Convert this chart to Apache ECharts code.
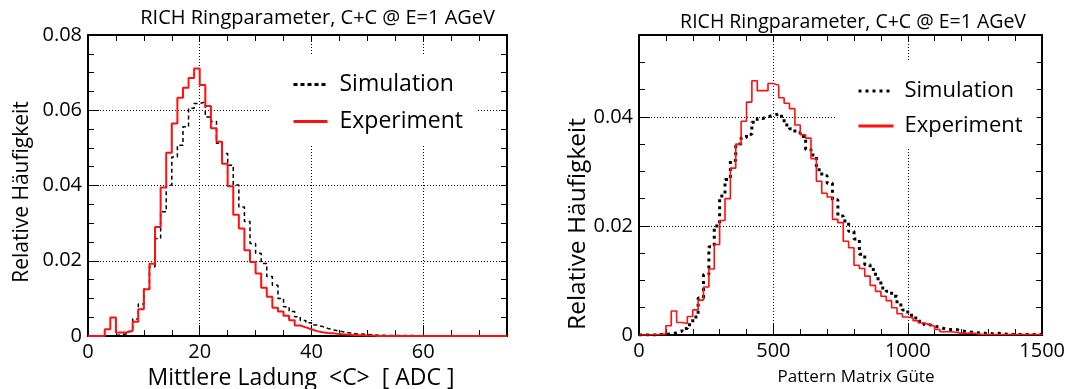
<!DOCTYPE html>
<html><head><meta charset="utf-8">
<script src="https://cdn.jsdelivr.net/npm/echarts@6/dist/echarts.min.js"></script>
<style>html,body{margin:0;padding:0;background:#fff}#c{width:1068px;height:389px}</style>
</head><body><div id="c"></div>
<script>
const FONT = '"Open Sans", "DejaVu Sans", sans-serif';

// bin widths of the two histograms
const leftBinWidth = 1;     // ADC
const rightBinWidth = 20;   // Pattern Matrix Güte

// Left: Mittlere Ladung <C> [ADC], bins 0..74
const leftSimulation = [
  0, 0, 0, 0, 0.0001, 0.0003, 0.0006, 0.0012, 0.0045, 0.0085,
  0.0125, 0.0184, 0.0259, 0.0330, 0.0401, 0.0476, 0.0507, 0.0556, 0.0605, 0.0618,
  0.0622, 0.0582, 0.0570, 0.0512, 0.0485, 0.0454, 0.0401, 0.0343, 0.0304, 0.0246,
  0.0220, 0.0193, 0.0158, 0.0135, 0.0100, 0.0078, 0.0065, 0.0051, 0.0041, 0.0035,
  0.0029, 0.0025, 0.0020, 0.0016, 0.0013, 0.0010, 0.0008, 0.0006, 0.0005, 0.0004,
  0.0003, 0.0002, 0.0002, 0.0001, 0.0001, 0.0001, 0.0001, 0.0001, 0.0001, 0,
  0, 0, 0, 0, 0, 0, 0, 0, 0, 0,
  0, 0, 0, 0, 0
];
const leftExperiment = [
  0, 0, 0, 0.0018, 0.0049, 0.0009, 0.0010, 0.0014, 0.0038, 0.0071,
  0.0124, 0.0192, 0.0290, 0.0395, 0.0487, 0.0565, 0.0633, 0.0660, 0.0686, 0.0711,
  0.0667, 0.0611, 0.0552, 0.0516, 0.0458, 0.0398, 0.0322, 0.0286, 0.0228, 0.0197,
  0.0166, 0.0128, 0.0104, 0.0075, 0.0065, 0.0054, 0.0042, 0.0028, 0.0023, 0.0018,
  0.0013, 0.0010, 0.0008, 0.0007, 0.0005, 0.0004, 0.0003, 0.0002, 0.0002, 0.0001,
  0.0001, 0, 0, 0, 0, 0, 0, 0, 0, 0,
  0, 0, 0, 0, 0, 0, 0, 0, 0, 0,
  0, 0, 0, 0, 0
];

// Right: Pattern Matrix Güte, bins of 20 from 0 to 1500
const rightSimulation = [
  0, 0, 0, 0.0001, 0.0001, 0.0002, 0.0004, 0.0007, 0.0012, 0.0019,
  0.0033, 0.0068, 0.0111, 0.0162, 0.0200, 0.0255, 0.0285, 0.0320, 0.0350, 0.0362,
  0.0368, 0.0390, 0.0397, 0.0400, 0.0403, 0.0405, 0.0401, 0.0385, 0.0378, 0.0371,
  0.0364, 0.0340, 0.0330, 0.0303, 0.0292, 0.0278, 0.0248, 0.0218, 0.0209, 0.0190,
  0.0176, 0.0148, 0.0129, 0.0120, 0.0103, 0.0086, 0.0080, 0.0071, 0.0055, 0.0046,
  0.0036, 0.0031, 0.0025, 0.0019, 0.0016, 0.0014, 0.0011, 0.0010, 0.0010, 0.0008,
  0.0006, 0.0005, 0.0004, 0.0003, 0.0003, 0.0002, 0.0003, 0.0002, 0.0001, 0.0001,
  0.0001, 0.0001, 0.0001, 0.0001, 0.0001
];
const rightExperiment = [
  0, 0, 0.0001, 0.0001, 0.0002, 0.0017, 0.0044, 0.0023, 0.0021, 0.0034,
  0.0046, 0.0064, 0.0088, 0.0121, 0.0166, 0.0210, 0.0250, 0.0306, 0.0350, 0.0392,
  0.0427, 0.0466, 0.0448, 0.0448, 0.0461, 0.0458, 0.0435, 0.0425, 0.0415, 0.0385,
  0.0367, 0.0361, 0.0323, 0.0282, 0.0260, 0.0253, 0.0212, 0.0206, 0.0172, 0.0160,
  0.0128, 0.0122, 0.0108, 0.0091, 0.0080, 0.0071, 0.0063, 0.0050, 0.0039, 0.0033,
  0.0031, 0.0026, 0.0022, 0.0019, 0.0016, 0.0010, 0.0006, 0.0006, 0.0005, 0.0003,
  0.0003, 0.0004, 0.0002, 0.0001, 0.0001, 0.0001, 0.0001, 0.0001, 0.0001, 0.0001,
  0.0001, 0.0001, 0.0001, 0.0001, 0.0001
];

const titleText = 'RICH Ringparameter, C+C @ E=1 AGeV';
const yTitle = 'Relative Häufigkeit';
const leftXTitle = 'Mittlere Ladung  <C>  [ ADC ]';
const rightXTitle = 'Pattern Matrix Güte';
const legendNames = ['Simulation', 'Experiment'];

function steps(vals, w) {
  const d = vals.map((v, i) => [i * w, v]);
  d.push([vals.length * w, vals[vals.length - 1]]);
  return d;
}

const BLACK = '#000';
const RED = '#ff1010';
const gridLine = { show: true, lineStyle: { type: [1, 2], color: BLACK, width: 1 } };
const frameLine = { show: true, onZero: false, lineStyle: { color: BLACK, width: 2 } };

function mainAxis(grid, min, max, interval, pos, minorSplit, showMax) {
  return {
    type: 'value', gridIndex: grid, min, max, interval, position: pos,
    axisLine: frameLine,
    axisTick: { show: true, inside: true, length: 11, lineStyle: { color: BLACK, width: 1 } },
    minorTick: minorSplit ? { show: true, splitNumber: minorSplit, length: 6, lineStyle: { color: BLACK, width: 1 } } : { show: false },
    axisLabel: { color: BLACK, fontSize: 20, fontFamily: FONT, margin: 6, showMaxLabel: showMax, showMinLabel: true,
      formatter: v => String(+v.toFixed(4)) },
    splitLine: gridLine
  };
}
function tickAxis(grid, min, max, interval, pos, withLine) {
  return {
    type: 'value', gridIndex: grid, min, max, interval, position: pos,
    axisLine: withLine ? frameLine : { show: false, onZero: false },
    axisTick: { show: true, inside: true, length: 6, lineStyle: { color: BLACK, width: 1 } },
    axisLabel: { show: false },
    splitLine: { show: false }
  };
}

const hiddenSymbol = { color: 'rgba(0,0,0,0)', borderWidth: 0, opacity: 0 };

const chart = echarts.init(document.getElementById('c'), null, { renderer: 'canvas' });
chart.setOption({
  animation: false,
  backgroundColor: '#fff',
  title: [
    { text: titleText, right: 568, top: 3, textStyle: { fontSize: 20, fontWeight: 'normal', fontFamily: FONT, color: BLACK } },
    { text: titleText, right: 37, top: 7, textStyle: { fontSize: 19.5, fontWeight: 'normal', fontFamily: FONT, color: BLACK } }
  ],
  grid: [
    { left: 88, right: 561, top: 35, bottom: 53 },
    { left: 639, right: 22, top: 35, bottom: 54 }
  ],
  xAxis: [
    mainAxis(0, 0, 75, 20, 'bottom', 0, false),
    tickAxis(0, 0, 75, 5, 'bottom', false),
    tickAxis(0, 0, 75, 5, 'top', true),
    mainAxis(1, 0, 1500, 500, 'bottom', 5, true),
    tickAxis(1, 0, 1500, 100, 'top', true)
  ],
  yAxis: [
    mainAxis(0, 0, 0.08, 0.02, 'left', 4, true),
    tickAxis(0, 0, 0.08, 0.005, 'right', true),
    mainAxis(1, 0, 0.055, 0.02, 'left', 0, false),
    tickAxis(1, 0, 0.055, 0.005, 'left', false),
    tickAxis(1, 0, 0.055, 0.005, 'right', true)
  ],
  legend: [
    {
      left: 270, top: 56, orient: 'vertical', backgroundColor: '#fff', borderWidth: 0,
      padding: [17, 14, 12, 22], itemWidth: 34, itemHeight: 20, itemGap: 14, selectedMode: false,
      textStyle: { fontSize: 23, lineHeight: 20, fontFamily: FONT, color: BLACK, padding: [0, 0, 0, 7] },
      data: [
        { name: legendNames[0], lineStyle: { type: [4, 3], width: 3, color: BLACK }, itemStyle: hiddenSymbol },
        { name: legendNames[1], lineStyle: { width: 3, color: RED }, itemStyle: hiddenSymbol }
      ]
    },
    {
      left: 837, top: 60, orient: 'vertical', backgroundColor: '#fff', borderWidth: 0,
      padding: [20, 14, 12, 20], itemWidth: 35, itemHeight: 20, itemGap: 13, selectedMode: false,
      textStyle: { fontSize: 22, lineHeight: 20, fontFamily: FONT, color: BLACK, padding: [0, 0, 0, 6] },
      data: [
        { name: legendNames[0], lineStyle: { type: [3, 4], width: 3, color: BLACK }, itemStyle: hiddenSymbol },
        { name: legendNames[1], lineStyle: { width: 3, color: RED }, itemStyle: hiddenSymbol }
      ]
    }
  ],
  graphic: [
    { type: 'text', x: 22, y: 192, rotation: Math.PI / 2, style: { text: yTitle, fontSize: 21, fontFamily: FONT, fill: BLACK, align: 'center', verticalAlign: 'middle' } },
    { type: 'text', x: 578, y: 224, rotation: Math.PI / 2, style: { text: yTitle, fontSize: 24.5, fontFamily: FONT, fill: BLACK, align: 'center', verticalAlign: 'middle' } },
    { type: 'text', x: 301, y: 378, style: { text: leftXTitle, fontSize: 23, fontFamily: FONT, fill: BLACK, align: 'center', verticalAlign: 'middle' } },
    { type: 'text', x: 856, y: 377, style: { text: rightXTitle, fontSize: 17, fontFamily: FONT, fill: BLACK, align: 'center', verticalAlign: 'middle' } }
  ],
  series: [
    { type: 'line', name: legendNames[0], xAxisIndex: 0, yAxisIndex: 0, step: 'end', symbol: 'none', z: 3,
      data: steps(leftSimulation, leftBinWidth), lineStyle: { color: BLACK, width: 1.5, type: [4, 3] }, itemStyle: { color: BLACK } },
    { type: 'line', name: legendNames[1], xAxisIndex: 0, yAxisIndex: 0, step: 'end', symbol: 'none', z: 4,
      data: steps(leftExperiment, leftBinWidth), lineStyle: { color: RED, width: 2 }, itemStyle: { color: RED } },
    { type: 'line', name: legendNames[0], xAxisIndex: 3, yAxisIndex: 2, step: 'end', symbol: 'none', z: 3,
      data: steps(rightSimulation, rightBinWidth), lineStyle: { color: BLACK, width: 3, type: [3, 4] }, itemStyle: { color: BLACK } },
    { type: 'line', name: legendNames[1], xAxisIndex: 3, yAxisIndex: 2, step: 'end', symbol: 'none', z: 4,
      data: steps(rightExperiment, rightBinWidth), lineStyle: { color: RED, width: 1.6 }, itemStyle: { color: RED } }
  ]
});
</script>
</body></html>
